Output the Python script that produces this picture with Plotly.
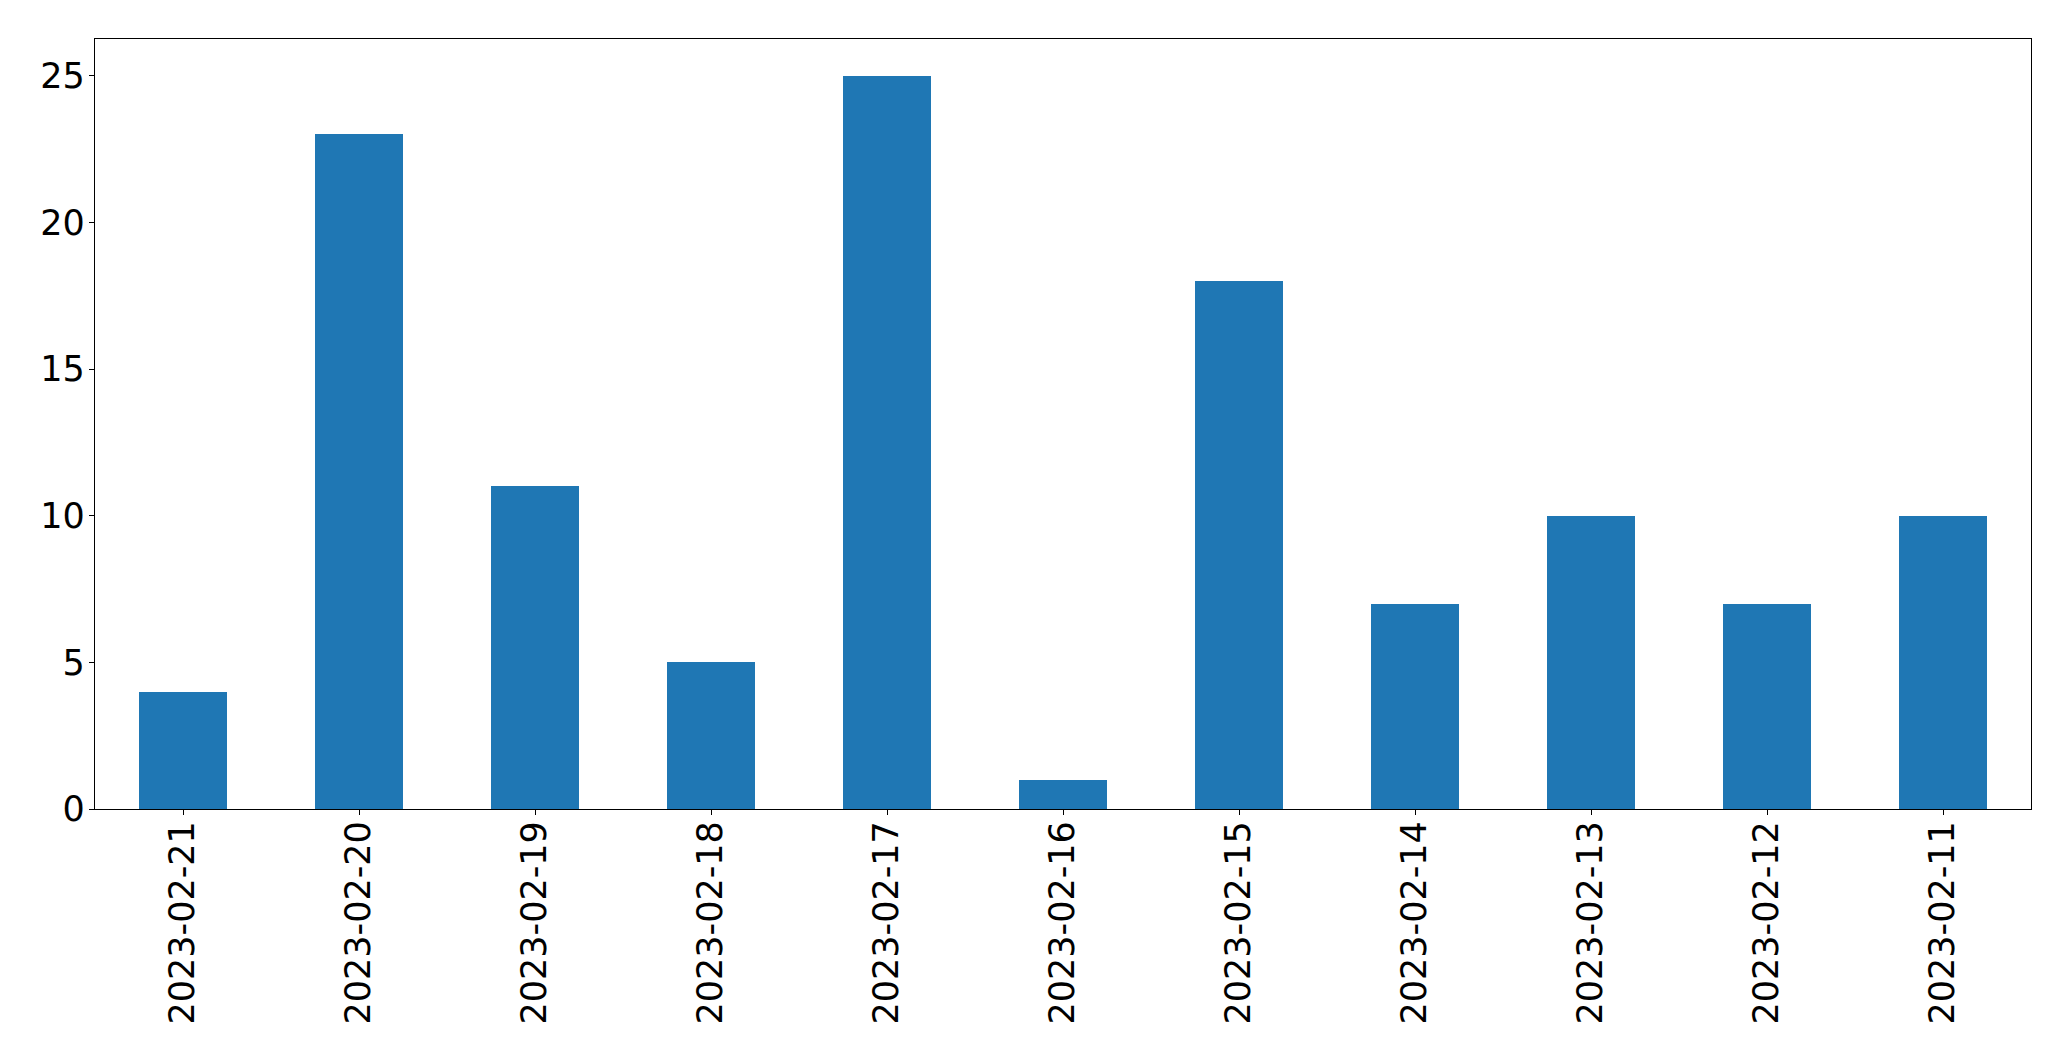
import plotly.graph_objects as go

dates = ["2023-02-21", "2023-02-20", "2023-02-19", "2023-02-18", "2023-02-17",
         "2023-02-16", "2023-02-15", "2023-02-14", "2023-02-13", "2023-02-12",
         "2023-02-11"]
counts = [4, 23, 11, 5, 25, 1, 18, 7, 10, 7, 10]

fig = go.Figure(go.Bar(
    x=dates, y=counts, width=0.5,
    marker=dict(color="#1f77b4", line=dict(width=0)),
))

axis_common = dict(
    showline=True, linecolor="black", linewidth=1.3, mirror=True,
    ticks="outside", ticklen=5, tickwidth=1.3, tickcolor="black",
    showgrid=False, zeroline=False, automargin=False,
    tickfont=dict(family="DejaVu Sans", size=35, color="black"),
)

fig.update_layout(
    template="none",
    width=2071, height=1061,
    margin=dict(l=95, r=40, t=39, b=252, pad=0),
    paper_bgcolor="white", plot_bgcolor="white",
    showlegend=False,
    xaxis=dict(type="category", range=[-0.5, 10.5], tickangle=-90,
               ticklabelstandoff=-8, **axis_common),
    yaxis=dict(range=[0, 26.25], tickvals=[0, 5, 10, 15, 20, 25],
               ticklabelstandoff=-3, **axis_common),
    bargap=0,
)

fig.write_html("out.html", config={"displayModeBar": False},
               post_script="document.body.style.margin='0';document.body.style.overflow='hidden';")
